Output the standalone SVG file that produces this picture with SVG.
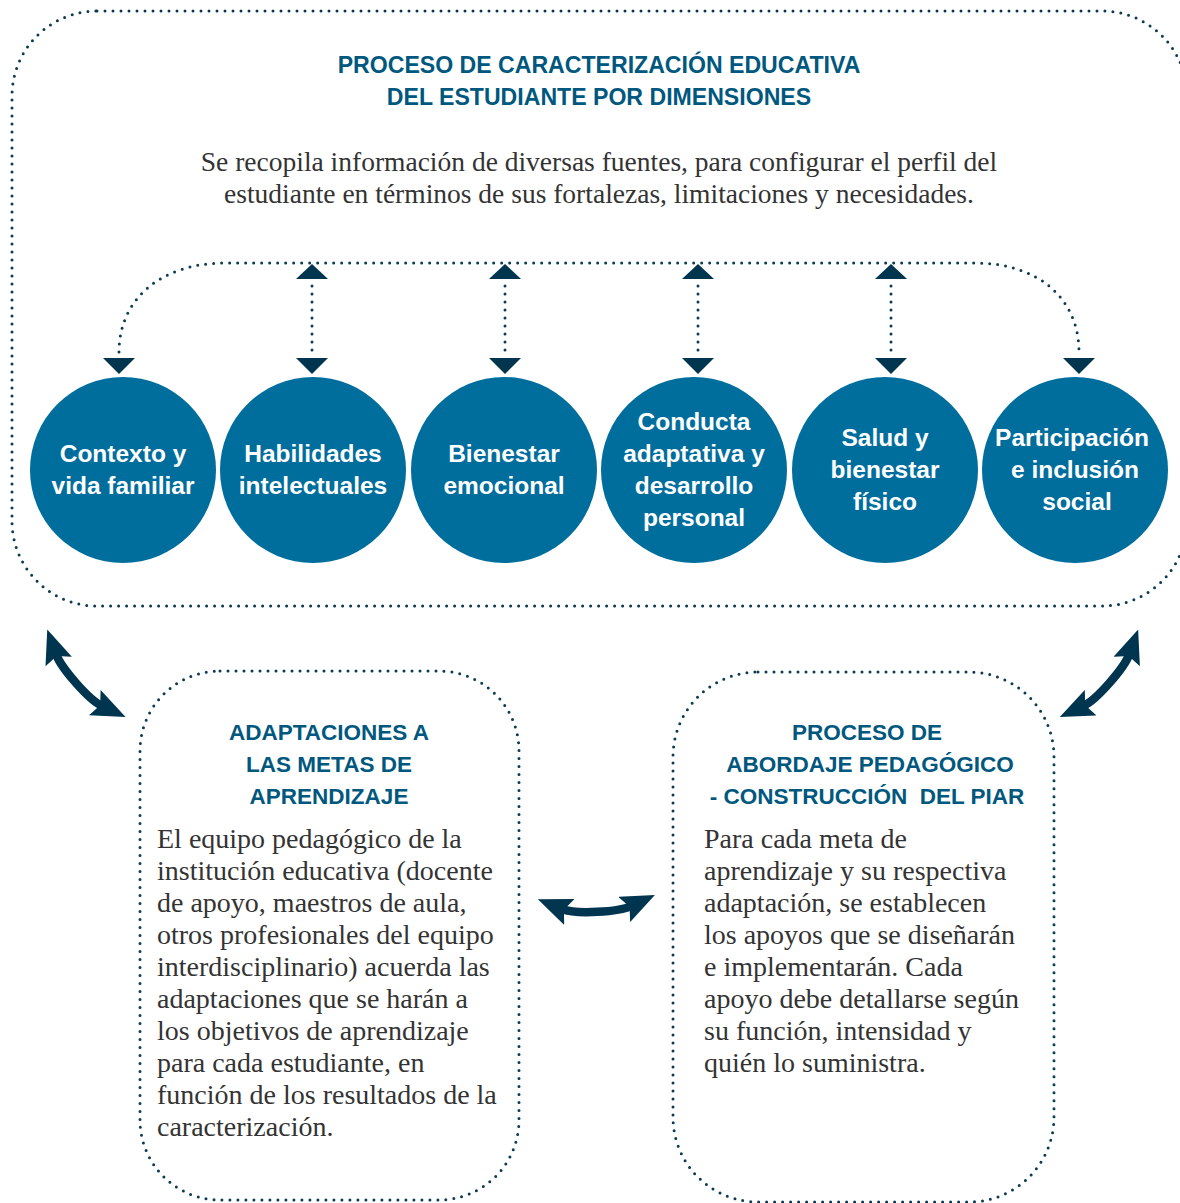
<svg xmlns="http://www.w3.org/2000/svg" width="1180" height="1203" viewBox="0 0 1180 1203">
<style>
.dot{fill:none;stroke:#0b3a52;stroke-width:3;stroke-linecap:round;stroke-dasharray:0 8}
.tri{fill:#00354f}
.circ{fill:#006e9d}
.ctext{font-family:"Liberation Sans",Arial,sans-serif;font-weight:bold;font-size:24.5px;fill:#ffffff;text-anchor:middle}
.title{font-family:"Liberation Sans",Arial,sans-serif;font-weight:bold;font-size:22.5px;fill:#00587e;text-anchor:middle}
.mtitle{font-size:23.1px}
.body{font-family:"Liberation Serif","Times New Roman",serif;font-size:28px;fill:#333333}
.sub{font-family:"Liberation Serif","Times New Roman",serif;font-size:27.5px;fill:#333333;text-anchor:middle}
.big{fill:none;stroke:#00354f;stroke-width:8.5}
</style>
<defs>
<marker id="bigArrow" viewBox="0 0 34 28" refX="8" refY="14" markerWidth="34" markerHeight="28" markerUnits="userSpaceOnUse" orient="auto-start-reverse">
<path d="M0,0 L34,14 L0,28 L6,14 Z" fill="#00354f"/>
</marker>
</defs>

<g id="caracterizacion">
<rect class="dot" x="12" y="11" width="1175" height="595" rx="85" ry="85"/>
<text class="title mtitle" x="599" y="73">PROCESO DE CARACTERIZACIÓN EDUCATIVA</text>
<text class="title mtitle" x="599" y="105">DEL ESTUDIANTE POR DIMENSIONES</text>
<text class="sub" x="599" y="171">Se recopila información de diversas fuentes, para configurar el perfil del</text>
<text class="sub" x="599" y="203">estudiante en términos de sus fortalezas, limitaciones y necesidades.</text>
</g>

<g id="contexto">
<circle class="circ" cx="123" cy="470" r="93"/>
<text class="ctext" x="123" y="462">Contexto y</text>
<text class="ctext" x="123" y="494">vida familiar</text>
</g>
<g id="habilidades">
<circle class="circ" cx="313" cy="470" r="93"/>
<text class="ctext" x="313" y="462">Habilidades</text>
<text class="ctext" x="313" y="494">intelectuales</text>
</g>
<g id="bienestar-emocional">
<circle class="circ" cx="504" cy="470" r="93"/>
<text class="ctext" x="504" y="462">Bienestar</text>
<text class="ctext" x="504" y="494">emocional</text>
</g>
<g id="conducta">
<circle class="circ" cx="694" cy="470" r="93"/>
<text class="ctext" x="694" y="430">Conducta</text>
<text class="ctext" x="694" y="462">adaptativa y</text>
<text class="ctext" x="694" y="494">desarrollo</text>
<text class="ctext" x="694" y="526">personal</text>
</g>
<g id="salud">
<circle class="circ" cx="885" cy="470" r="93"/>
<text class="ctext" x="885" y="446">Salud y</text>
<text class="ctext" x="885" y="478">bienestar</text>
<text class="ctext" x="885" y="510">físico</text>
</g>
<g id="participacion">
<circle class="circ" cx="1075" cy="470" r="93"/>
<text class="ctext" x="1072" y="446">Participación</text>
<text class="ctext" x="1075" y="478">e inclusión</text>
<text class="ctext" x="1077" y="510">social</text>
</g>

<g id="adaptaciones">
<rect class="dot" x="140" y="671" width="379" height="529" rx="80" ry="80"/>
<text class="title" x="329" y="740">ADAPTACIONES A</text>
<text class="title" x="329" y="772">LAS METAS DE</text>
<text class="title" x="329" y="804">APRENDIZAJE</text>
<text class="body" x="157" y="848">El equipo pedagógico de la</text>
<text class="body" x="157" y="880">institución educativa (docente</text>
<text class="body" x="157" y="912">de apoyo, maestros de aula,</text>
<text class="body" x="157" y="944">otros profesionales del equipo</text>
<text class="body" x="157" y="976">interdisciplinario) acuerda las</text>
<text class="body" x="157" y="1008">adaptaciones que se harán a</text>
<text class="body" x="157" y="1040">los objetivos de aprendizaje</text>
<text class="body" x="157" y="1072">para cada estudiante, en</text>
<text class="body" x="157" y="1104">función de los resultados de la</text>
<text class="body" x="157" y="1136">caracterización.</text>
</g>

<g id="abordaje">
<rect class="dot" x="673" y="672" width="381" height="530" rx="85" ry="85"/>
<text class="title" x="867" y="740">PROCESO DE</text>
<text class="title" x="870" y="772">ABORDAJE PEDAGÓGICO</text>
<text class="title" x="867" y="804" xml:space="preserve">- CONSTRUCCIÓN  DEL PIAR</text>
<text class="body" x="704" y="848">Para cada meta de</text>
<text class="body" x="704" y="880">aprendizaje y su respectiva</text>
<text class="body" x="704" y="912">adaptación, se establecen</text>
<text class="body" x="704" y="944">los apoyos que se diseñarán</text>
<text class="body" x="704" y="976">e implementarán. Cada</text>
<text class="body" x="704" y="1008">apoyo debe detallarse según</text>
<text class="body" x="704" y="1040">su función, intensidad y</text>
<text class="body" x="704" y="1072">quién lo suministra.</text>
</g>

<g id="connectors">
<path class="dot" d="M119,352 C119,300 160,263 225,263 L975,263 C1040,263 1079,300 1079,352"/>
<path class="dot" d="M312,286 L312,352"/>
<path class="dot" d="M505,286 L505,352"/>
<path class="dot" d="M698,286 L698,352"/>
<path class="dot" d="M891,286 L891,352"/>
<g class="tri">
<polygon points="103,358 135,358 119,374"/>
<polygon points="1063,358 1095,358 1079,374"/>
<polygon points="296,279 328,279 312,264"/>
<polygon points="296,358 328,358 312,374"/>
<polygon points="489,279 521,279 505,264"/>
<polygon points="489,358 521,358 505,374"/>
<polygon points="682,279 714,279 698,264"/>
<polygon points="682,358 714,358 698,374"/>
<polygon points="875,279 907,279 891,264"/>
<polygon points="875,358 907,358 891,374"/>
</g>
<path class="big" marker-start="url(#bigArrow)" marker-end="url(#bigArrow)" d="M56,654 C61,668 89,700 102,706"/>
<path class="big" marker-start="url(#bigArrow)" marker-end="url(#bigArrow)" d="M1129.4,654 C1124.4,668 1096.4,700 1083.4,706"/>
<path class="big" marker-start="url(#bigArrow)" marker-end="url(#bigArrow)" d="M562,909 C576,914.6 618.7,912 631.4,906"/>
</g>
</svg>
